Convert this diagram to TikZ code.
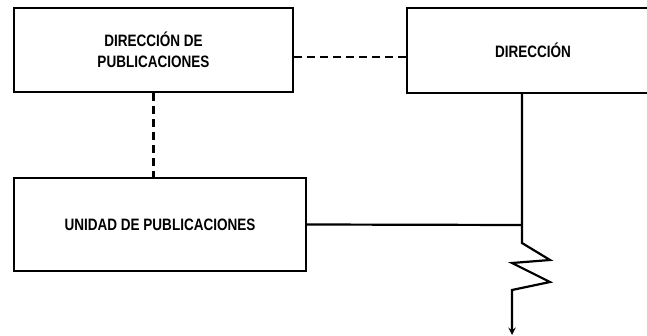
\documentclass[tikz,border=0pt]{standalone}
\usepackage{fontspec}
\setmainfont{Liberation Sans}[FakeStretch=0.82]

\begin{document}
\begin{tikzpicture}[x=1pt,y=-1pt,>=stealth,line width=2.2pt,
  every node/.style={draw,rectangle,align=center,inner sep=0pt,
    font=\bfseries\fontsize{16.5}{21}\selectfont},
  dsh/.style={dash pattern=on 8pt off 5pt}]
\clip (0,0) rectangle (647,336);
\node[minimum width=279pt,minimum height=84pt] (dirpub) at (153.5,50) {DIRECCIÓN DE\\PUBLICACIONES};
\node[minimum width=252pt,minimum height=85pt] (dir) at (533,50.5) {DIRECCIÓN};
\node[minimum width=292pt,minimum height=93pt] (unidad) at (160,224.5) {UNIDAD DE PUBLICACIONES};
\coordinate (junc) at (522,225);
\coordinate (out) at (512,335);
\draw[dsh] ([yshift=-7pt]dirpub.east) -- ([yshift=-7pt]dirpub.east -| dir.west);
\draw[dsh] (dirpub.south) -- (dirpub.south |- unidad.north);
\draw (unidad.east) -- (junc);
\draw[->] (dir.south -| junc) -- (junc) -- ++(0,18) -- ++(28,17) -- ++(-38,3)
  -- ++(38,19) -- ++(-38,8) -- (out);
\end{tikzpicture}
\end{document}
